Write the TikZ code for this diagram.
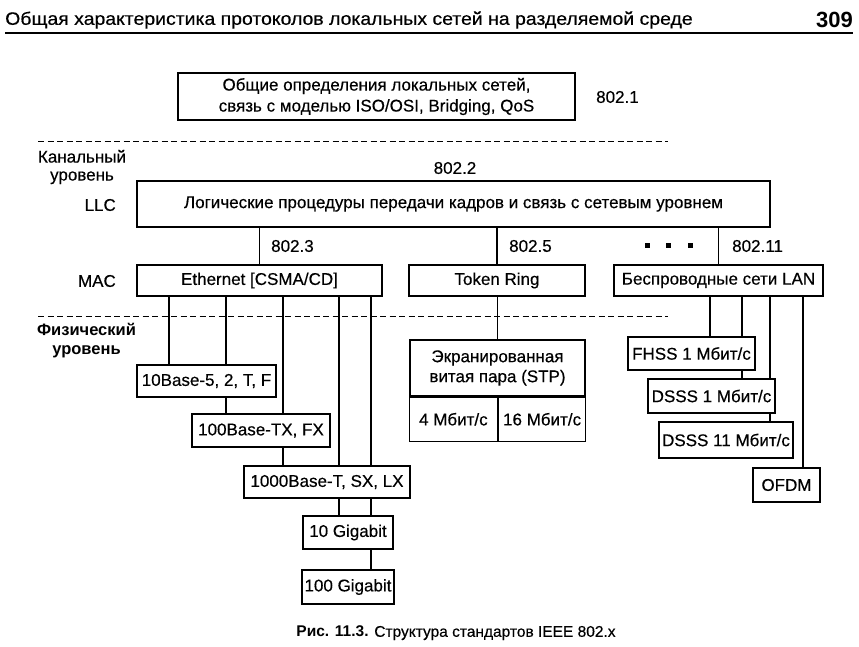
\documentclass[tikz,border=0pt]{standalone}
\usepackage{graphicx}
\usepackage{fontspec}
\setmainfont{Liberation Sans}[UprightFeatures={FakeBold=0.4}]
\begin{document}
\begin{tikzpicture}[x=1pt,y=-1pt,
  font=\fontsize{17}{20}\selectfont,
  box/.style={draw, line width=1.2pt, inner sep=0pt, align=center},
  conn/.style={line width=1.2pt},
  layer/.style={dash pattern=on 6pt off 3.5pt, line width=1pt},
  lbl/.style={inner sep=0pt, align=center}]
\useasboundingbox (0,0) rectangle (859,646);

% header
\node[lbl, anchor=west] (hdr) at (5,20) {\scalebox{1.08}[1]{\fontsize{18}{20}\selectfont Общая характеристика протоколов локальных сетей на разделяемой среде}};
\node[lbl, anchor=east, font=\fontsize{22}{24}\selectfont\bfseries] (pg) at (853,20) {309};
\coordinate (r1) at (5,33);
\coordinate (r2) at (853,33);
\draw[line width=1.5pt] (r1) -- (r2);

% layer separators
\coordinate (d1a) at (38,141);
\coordinate (d1b) at (668,141);
\coordinate (d2a) at (38,316);
\coordinate (d2b) at (668,316);
\draw[layer] (d1a) -- (d1b);
\draw[layer] (d2a) -- (d2b);

% left labels
\node[lbl, font=\fontsize{17}{18}\selectfont] (kan) at (82,167) {Канальный\\уровень};
\node[lbl, anchor=east] (llcl) at (116,205) {LLC};
\node[lbl, anchor=east] (macl) at (116,281) {MAC};
\node[lbl, font=\fontsize{16.5}{19}\selectfont\bfseries] (fiz) at (86.5,341) {Физический\\уровень};

% top box
\node[box, minimum width=397pt, minimum height=47pt, font=\fontsize{17}{21}\selectfont] (top) at (376.5,96.5) {Общие определения локальных сетей,\\связь с моделью ISO/OSI, Bridging, QoS};
\node[lbl, anchor=west] (n1) at (596,97) {802.1};

% LLC
\node[lbl] (n2) at (455,168) {802.2};
\node[box, minimum width=633pt, minimum height=46pt] (llc) at (453.5,204) {Логические процедуры передачи кадров и связь с сетевым уровнем};

% MAC row
\node[box, minimum width=245pt, minimum height=31pt] (eth) at (259.5,280.5) {Ethernet [CSMA/CD]};
\node[box, minimum width=176pt, minimum height=31pt] (tok) at (497,280.5) {Token Ring};
\node[box, minimum width=209pt, minimum height=31pt] (wl) at (718.5,280.5) {Беспроводные сети LAN};
\node[lbl, anchor=west] (n3) at (271,246) {802.3};
\node[lbl, anchor=west] (n5) at (509,246) {802.5};
\node[lbl, anchor=west] (n11) at (732,246) {802.11};
\fill (644.5,242.5) rectangle (649.5,247.5);
\fill (665.5,242.5) rectangle (670.5,247.5);
\fill (687.5,242.5) rectangle (692.5,247.5);

\draw[conn] (eth.north) -- (eth.north |- llc.south);
\draw[conn] (tok.north) -- (tok.north |- llc.south);
\draw[conn] (wl.north) -- (wl.north |- llc.south);

% Ethernet physical
\node[box, minimum width=139pt, minimum height=32pt] (b10) at (206.5,381) {10Base-5, 2, T, F};
\node[box, minimum width=138pt, minimum height=33pt] (b100) at (261,430.5) {100Base-TX, FX};
\node[box, minimum width=166pt, minimum height=32pt] (b1000) at (327,482) {1000Base-T, SX, LX};
\node[box, minimum width=90pt, minimum height=33pt] (g10) at (348,532.5) {10 Gigabit};
\node[box, minimum width=92pt, minimum height=34pt] (g100) at (348,587) {100 Gigabit};
\coordinate (e1) at (169,0);
\coordinate (e2) at (226,0);
\coordinate (e3) at (283,0);
\coordinate (e4) at (339,0);
\coordinate (e5) at (371,0);
\draw[conn] (e1 |- eth.south) -- (e1 |- b10.north);
\draw[conn] (e2 |- eth.south) -- (e2 |- b10.north);
\draw[conn] (e2 |- b10.south) -- (e2 |- b100.north);
\draw[conn] (e3 |- eth.south) -- (e3 |- b100.north);
\draw[conn] (e3 |- b100.south) -- (e3 |- b1000.north);
\draw[conn] (e4 |- eth.south) -- (e4 |- b1000.north);
\draw[conn] (e5 |- eth.south) -- (e5 |- b1000.north);
\draw[conn] (e4 |- b1000.south) -- (e4 |- g10.north);
\draw[conn] (e5 |- b1000.south) -- (e5 |- g10.north);
\draw[conn] (e5 |- g10.south) -- (e5 |- g100.north);

% Token Ring physical
\node[box, minimum width=175pt, minimum height=56pt, font=\fontsize{17}{20}\selectfont] (stp) at (497.5,368) {Экранированная\\витая пара (STP)};
\node[box, minimum width=88pt, minimum height=44pt, anchor=north east] (m4) at (stp.south -| 498,0) {4 Мбит/с};
\node[box, minimum width=87pt, minimum height=44pt, anchor=north west] (m16) at (m4.north east) {16 Мбит/с};
\draw[conn] (stp.north) -- (stp.north |- tok.south);

% Wireless physical
\node[box, minimum width=127pt, minimum height=33pt] (fhss) at (691.5,353.5) {FHSS 1 Мбит/с};
\node[box, minimum width=127pt, minimum height=34pt] (ds1) at (711.5,396) {DSSS 1 Мбит/с};
\node[box, minimum width=134pt, minimum height=36pt] (ds11) at (726,440) {DSSS 11 Мбит/с};
\node[box, minimum width=67pt, minimum height=34pt] (ofdm) at (786.5,485) {OFDM};
\coordinate (w1) at (710,0);
\coordinate (w2) at (742,0);
\coordinate (w3) at (770,0);
\coordinate (w4) at (803,0);
\draw[conn] (w1 |- wl.south) -- (w1 |- fhss.north);
\draw[conn] (w2 |- wl.south) -- (w2 |- fhss.north);
\draw[conn] (w2 |- fhss.south) -- (w2 |- ds1.north);
\draw[conn] (w3 |- wl.south) -- (w3 |- ds1.north);
\draw[conn] (w3 |- ds1.south) -- (w3 |- ds11.north);
\draw[conn] (w4 |- wl.south) -- (w4 |- ofdm.north);

% caption
\node[lbl, font=\fontsize{15.5}{18}\selectfont] (cap) at (456,633) {\textbf{Рис. 11.3.} Структура стандартов IEEE 802.x};
\end{tikzpicture}
\end{document}
